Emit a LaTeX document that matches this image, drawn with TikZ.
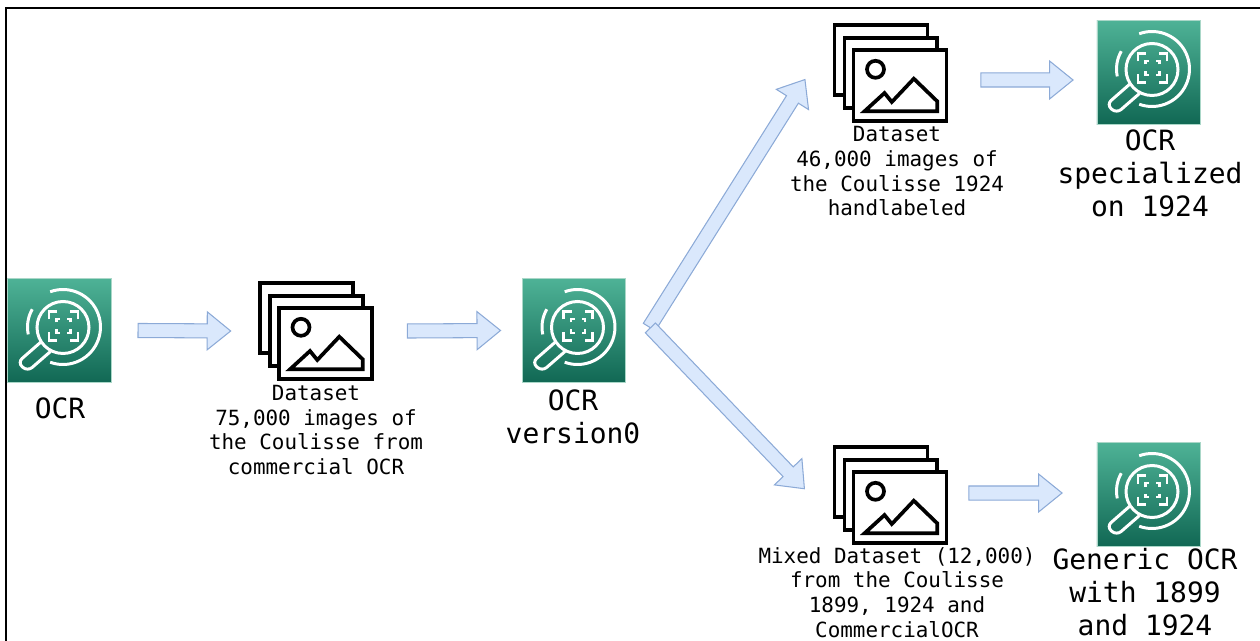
\documentclass[tikz,border=0pt]{standalone}
\usepackage{fontspec}
\setmonofont{DejaVu Sans Mono}
\usetikzlibrary{calc}
\usetikzlibrary{shapes.arrows}

\definecolor{ocrtop}{RGB}{78,178,150}
\definecolor{ocrbottom}{RGB}{17,104,84}
\definecolor{ocredge}{RGB}{170,215,200}
\definecolor{arrowfill}{RGB}{218,232,252}
\definecolor{arrowline}{RGB}{140,170,215}

\tikzset{
	ocrbox/.style={rectangle, minimum size=2.07cm, inner sep=0pt, draw=ocredge, line width=0.3pt, top color=ocrtop, bottom color=ocrbottom},
	stackbox/.style={rectangle, minimum width=2.26cm, minimum height=1.92cm, inner sep=0pt},
	ocrline/.style={white, line width=1.7pt},
	stackline/.style={black, line width=2.1pt, fill=white},
	smalltext/.style={font=\ttfamily\fontsize{11.9}{14.05}\selectfont, align=center, inner sep=0pt},
	bigtext/.style={font=\ttfamily\fontsize{15.9}{18.8}\selectfont, align=center, inner sep=0pt},
	blockarrow/.style={single arrow, inner xsep=0pt, inner ysep=0.13cm, single arrow head extend=0.24cm, single arrow tip angle=78, single arrow head indent=0pt, fill=arrowfill, draw=arrowline, line width=0.6pt},
	pics/ocrglyph/.style={code={
		% magnifying glass
		\draw[ocrline, rounded corners=3.5pt] (-18,11) -- (-42,32) -- (-32,41) -- (-9,21);
		\draw[ocrline] (3.5,-3) circle [radius=26];
		\draw[ocrline] ([shift={(-110:37.5)}]3.5,-3.5) arc [start angle=-110, end angle=110, radius=37.5];
		\draw[ocrline] ([shift={(168:35.5)}]3.5,-3.5) arc [start angle=168, end angle=210, radius=35.5];
		% focus corners
		\foreach \sx/\sy in {1/1,1/-1,-1/1,-1/-1} {
			\draw[ocrline, line width=1.3pt] ({4+\sx*14.5},{-4.5+\sy*6.5}) -- ({4+\sx*14.5},{-4.5+\sy*14.5}) -- ({4+\sx*6.5},{-4.5+\sy*14.5});
			\draw[ocrline, line width=1.3pt] ({4+\sx*7},{-4.5+\sy*3.5}) -- ({4+\sx*7},{-4.5+\sy*7}) -- ({4+\sx*3.5},{-4.5+\sy*7});
		}
	}},
	pics/stackglyph/.style={code={
		% three sheets
		\draw[stackline] (-56,-48) rectangle (37,22);
		\draw[stackline] (-46,-35) rectangle (46.7,35);
		\draw[stackline] (-37,-23) rectangle (56,48);
		% picture on the front sheet
		\draw[stackline] (-15,-3.7) circle [radius=8.5];
		\draw[stackline, line join=miter] (-26,38.3) -- (-6,20) -- (1.3,29) -- (23.3,5.7) -- (46.7,28.3) -- (46.7,38.3) -- cycle;
	}}
}

\newcommand{\blockarrow}[3]{
	\coordinate (#1s) at ($#2$);
	\coordinate (#1e) at ($#3$);
	\path let \p1=($(#1e)-(#1s)$), \n1={atan2(\y1,\x1)}, \n2={veclen(\x1,\y1)} in
		node[blockarrow, anchor=tail, rotate=\n1, minimum height=\n2] (#1) at (#1s) {};
}

\begin{document}
\begin{tikzpicture}[x=0.02cm, y=-0.02cm]
	\useasboundingbox (0,0) rectangle (1260,641);

	% draw ocr icons
	\node[ocrbox] (ocrbase) at (59.5,330.5) {};
	\node[ocrbox] (ocrzero) at (574,330.5) {};
	\node[ocrbox] (ocrspecial) at (1148.5,72.5) {};
	\node[ocrbox] (ocrgeneric) at (1148.5,494.5) {};
	\foreach \icon in {ocrbase,ocrzero,ocrspecial,ocrgeneric} {
		\pic at (\icon) {ocrglyph};
	}

	% draw dataset stacks
	\node[stackbox] (setcommercial) at (316,331) {};
	\node[stackbox] (sethand) at (890.5,73) {};
	\node[stackbox] (setmixed) at (890.5,495) {};
	\foreach \stack in {setcommercial,sethand,setmixed} {
		\pic at (\stack) {stackglyph};
	}

	% draw the arrows
	\blockarrow{arrowa}{(ocrbase.east)+(26,0)}{(setcommercial.west)+(-29,0)}
	\blockarrow{arrowb}{(setcommercial.east)+(34,0)}{(ocrzero.west)+(-22,0)}
	\blockarrow{arrowc}{(ocrzero.east)+(23,-3)}{(sethand.west)+(-29,7)}
	\blockarrow{arrowd}{(ocrzero.east)+(24,-3)}{(setmixed.west)+(-29,-6)}
	\blockarrow{arrowe}{(sethand.east)+(33,7)}{(ocrspecial.west)+(-24,7.5)}
	\blockarrow{arrowf}{(setmixed.east)+(21,-2)}{(ocrgeneric.west)+(-35,-1.5)}

	% draw the labels
	\node[bigtext] (labelbase) at (60,408) {OCR};
	\node[smalltext] (labelcommercial) at (316,430) {Dataset\\75,000 images of\\the Coulisse from\\commercial OCR};
	\node[bigtext] (labelzero) at (573,417) {OCR\\version0};
	\node[smalltext] (labelhand) at (897,171.5) {Dataset\\46,000 images of\\the Coulisse 1924\\handlabeled};
	\node[bigtext] (labelspecial) at (1150,173.5) {OCR\\specialized\\on 1924};
	\node[smalltext] (labelmixed) at (897,592.5) {Mixed Dataset (12,000)\\from the Coulisse\\1899, 1924 and\\CommercialOCR};
	\node[bigtext] (labelgeneric) at (1145,592.5) {Generic OCR\\with 1899\\and 1924};

	% draw region outline
	\draw[black, line width=1.4pt] (6,641) -- (6,8) -- (1260,8);
\end{tikzpicture}
\end{document}
